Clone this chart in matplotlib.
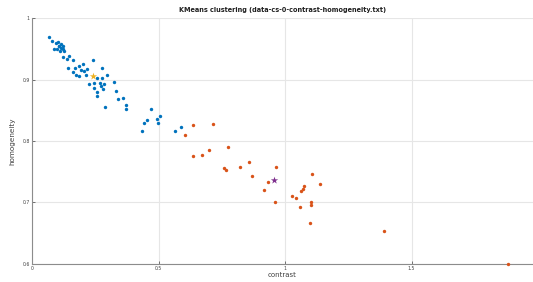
import numpy as np
import matplotlib
matplotlib.use('Agg')
import matplotlib.pyplot as plt

# cluster 1 (blue) points
blue_x = [0.067, 0.078, 0.095, 0.101, 0.107, 0.116, 0.122, 0.088, 0.098, 0.111, 0.121, 0.127,
          0.113, 0.105, 0.124, 0.137, 0.147, 0.161, 0.141, 0.163, 0.169, 0.187, 0.202, 0.192,
          0.207, 0.219, 0.174, 0.186, 0.213, 0.242, 0.277, 0.295, 0.256, 0.275, 0.224, 0.246,
          0.246, 0.269, 0.273, 0.286, 0.282, 0.256, 0.256, 0.323, 0.331, 0.339, 0.358, 0.290,
          0.373, 0.370, 0.472, 0.455, 0.441, 0.435, 0.507, 0.495, 0.499, 0.564, 0.589]
blue_y = [0.969, 0.963, 0.959, 0.961, 0.954, 0.952, 0.950, 0.950, 0.949, 0.947, 0.955, 0.946,
          0.957, 0.955, 0.936, 0.933, 0.938, 0.932, 0.918, 0.912, 0.918, 0.922, 0.926, 0.915,
          0.914, 0.917, 0.907, 0.905, 0.907, 0.931, 0.919, 0.907, 0.903, 0.903, 0.892, 0.894,
          0.887, 0.895, 0.889, 0.892, 0.884, 0.879, 0.873, 0.896, 0.881, 0.869, 0.870, 0.855,
          0.858, 0.852, 0.852, 0.834, 0.829, 0.817, 0.841, 0.836, 0.830, 0.816, 0.822]

# cluster 2 (orange) points
orange_x = [0.636, 0.717, 0.603, 0.638, 0.671, 0.698, 0.773, 0.758, 0.767, 0.822, 0.858,
            0.868, 0.963, 0.933, 0.917, 0.959, 1.026, 1.042, 1.059, 1.105, 1.138, 1.075,
            1.064, 1.070, 1.104, 1.101, 1.099, 1.393, 1.880]
orange_y = [0.826, 0.828, 0.809, 0.775, 0.778, 0.786, 0.791, 0.756, 0.753, 0.757, 0.766,
            0.743, 0.757, 0.733, 0.721, 0.700, 0.711, 0.707, 0.693, 0.747, 0.730, 0.727,
            0.719, 0.722, 0.701, 0.696, 0.666, 0.653, 0.600]

# centroids
centroid_x = [0.242, 0.957]
centroid_y = [0.905, 0.736]

fig = plt.figure(figsize=(5.33, 2.82), dpi=100)
ax = fig.add_axes([0.060, 0.064, 0.940, 0.872])

ax.scatter(blue_x, blue_y, s=6, color='#0072BD', zorder=3, linewidths=0)
ax.scatter(orange_x, orange_y, s=6, color='#D95319', zorder=3, linewidths=0, clip_on=False)
ax.scatter(centroid_x[0], centroid_y[0], s=30, marker='*', color='#EDB120', zorder=4, linewidths=0)
ax.scatter(centroid_x[1], centroid_y[1], s=30, marker='*', color='#7E2F8E', zorder=4, linewidths=0)

ax.set_xlim(0, 1.98)
ax.set_ylim(0.6, 1.0)
ax.set_xticks([0, 0.5, 1, 1.5])
ax.set_xticklabels(['0', '0.5', '1', '1.5'])
ax.set_yticks([0.6, 0.7, 0.8, 0.9, 1.0])
ax.set_yticklabels(['0.6', '0.7', '0.8', '0.9', '1'])
ax.tick_params(direction='in', length=2, width=0.5, labelsize=3.3, colors='#404040', pad=1.5)
ax.grid(True, color='#e6e6e6', linewidth=0.8)
ax.set_axisbelow(True)

for side in ['top', 'right']:
    ax.spines[side].set_visible(False)
for side in ['left', 'bottom']:
    ax.spines[side].set_color('#8c8c8c')
    ax.spines[side].set_linewidth(0.8)

ax.set_xlabel('contrast', fontsize=5, color='#404040', labelpad=0.5)
ax.set_ylabel('homogeneity', fontsize=5.2, color='#404040', labelpad=5)
ax.set_title('KMeans clustering (data-cs-0-contrast-homogeneity.txt)', fontsize=4.7,
             fontweight='bold', color='#202020', pad=4)

fig.savefig('out.png', dpi=100)
